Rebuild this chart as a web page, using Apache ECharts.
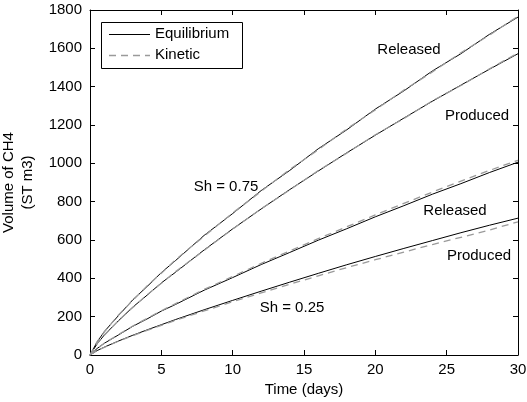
<!DOCTYPE html>
<html>
<head>
<meta charset="utf-8">
<script src="https://cdn.jsdelivr.net/npm/echarts@6/dist/echarts.min.js"></script>
<style>html,body{margin:0;padding:0;background:#fff}#c{width:527px;height:402px}</style>
</head>
<body>
<div id="c"></div>
<script>
// Time (days)
var time = [0,0.5,1,2,3,4,5,6,8,10,12,14,16,18,20,22,24,26,28,30];
// Sh = 0.75
var eqReleased75  = [0,68,122,206,288,357,430,493,624,738,858,963,1076,1175,1283,1378,1482,1572,1673,1763];
var kinReleased75 = [0,70,120,209,285,360,427,497,620,741,854,968,1071,1180,1279,1382,1477,1577,1669,1768];
var eqProduced75  = [0,58,104,179,250,312,376,432,548,658,762,863,960,1055,1147,1236,1324,1408,1491,1572];
var kinProduced75 = [0,60,103,181,248,314,374,435,546,657,763,861,962,1053,1149,1234,1326,1406,1493,1576];
// Sh = 0.25
var eqReleased25  = [0,34,61,105,150,188,229,264,338,404,472,535,599,659,721,779,839,894,952,1006];
var kinReleased25 = [0,34,61,107,151,191,231,268,342,410,478,543,607,669,731,791,850,907,963,1016];
var eqProduced25  = [0,23,41,73,103,131,158,185,236,285,333,380,426,471,514,556,597,638,677,714];
var kinProduced25 = [0,23,40,72,101,128,155,181,230,278,324,369,413,456,497,537,576,614,652,695];

var legendNames = ['Equilibrium','Kinetic'];

function pairs(v){ return time.map(function(t,i){ return [t, v[i]]; }); }
var FONT = '"Liberation Sans", Arial, Helvetica, sans-serif';
var GRAY = '#9a9a9a';
var DASH = [7,5];

function eq(v){ return {name:legendNames[0], type:'line', data:pairs(v), symbol:'none', smooth:false,
  lineStyle:{color:'#000', width:1}, itemStyle:{color:'#000'}, z:2, animation:false}; }
function kin(v){ return {name:legendNames[1], type:'line', data:pairs(v), symbol:'none', smooth:false,
  lineStyle:{color:GRAY, width:1.3, type:DASH}, itemStyle:{color:GRAY}, z:3, animation:false}; }

var axisCommon = {
  axisLine:{show:true, onZero:false, lineStyle:{color:'#000', width:1}},
  axisTick:{show:true, inside:true, length:5, lineStyle:{color:'#000'}},
  splitLine:{show:false}
};

function label(text, x, y, align){
  return {type:'text', x:x, y:y, z:10,
    style:{text:text, font:'15px '+FONT, fill:'#000', align:align||'center', verticalAlign:'middle'}};
}

var chart = echarts.init(document.getElementById('c'), null, {renderer:'canvas'});
chart.setOption({
  animation:false,
  textStyle:{fontFamily:FONT},
  grid:{left:90, right:9, top:10, bottom:47, containLabel:false, outerBoundsMode:'none'},
  xAxis:[
    Object.assign({type:'value', min:0, max:30, interval:5, position:'bottom',
      name:'Time (days)', nameLocation:'middle', nameGap:24,
      nameTextStyle:{fontSize:15, color:'#000', fontFamily:FONT},
      axisLabel:{fontSize:15, color:'#000', margin:7, fontFamily:FONT,
        formatter:function(v){ return String(v); }}}, axisCommon),
    Object.assign({type:'value', min:0, max:30, interval:5, position:'top',
      axisLabel:{show:false}}, axisCommon)
  ],
  yAxis:[
    Object.assign({type:'value', min:0, max:1800, interval:200, position:'left',
      name:'Volume of CH4\n(ST m3)', nameLocation:'middle', nameGap:40,
      nameTextStyle:{fontSize:15, color:'#000', lineHeight:19, fontFamily:FONT},
      axisLabel:{fontSize:15, color:'#000', margin:8, fontFamily:FONT,
        formatter:function(v){ return String(v); }}}, axisCommon),
    Object.assign({type:'value', min:0, max:1800, interval:200, position:'right',
      axisLabel:{show:false}}, axisCommon)
  ],
  series:[
    eq(eqReleased75), eq(eqProduced75), eq(eqReleased25), eq(eqProduced25),
    kin(kinReleased75), kin(kinProduced75), kin(kinReleased25), kin(kinProduced25)
  ],
  graphic:[
    // legend box
    {type:'rect', shape:{x:101.5, y:22.5, width:141, height:46}, z:20,
      style:{fill:'#fff', stroke:'#000', lineWidth:1}},
    {type:'line', shape:{x1:109, y1:34.5, x2:150, y2:34.5}, z:21,
      style:{stroke:'#000', lineWidth:1}},
    {type:'line', shape:{x1:109, y1:55.5, x2:150, y2:55.5}, z:21,
      style:{stroke:GRAY, lineWidth:1.3, lineDash:DASH}},
    {type:'text', x:155, y:34, z:21, style:{text:legendNames[0], font:'15px '+FONT, fill:'#000', align:'left', verticalAlign:'middle'}},
    {type:'text', x:155, y:55, z:21, style:{text:legendNames[1], font:'15px '+FONT, fill:'#000', align:'left', verticalAlign:'middle'}},
    // annotations
    label('Released', 409, 50),
    label('Produced', 477, 116),
    label('Released', 455, 211),
    label('Produced', 479, 256),
    label('Sh = 0.75', 226, 187),
    label('Sh = 0.25', 292, 308)
  ]
});
</script>
</body>
</html>
